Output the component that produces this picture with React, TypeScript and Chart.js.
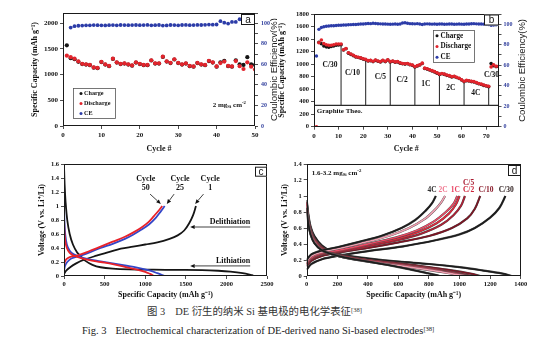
import React, { useEffect, useRef } from 'react';
import { Chart, registerables } from 'chart.js';

Chart.register(...registerables);

const SERIF = "'Liberation Serif', 'Times New Roman', serif";
const SANS = "'Liberation Sans', Arial, sans-serif";
const RED = '#e2242c';
const BLACK = '#151515';
const BLUE = '#2c3ca8';
const AXIS_BLUE = '#33419e';

// ================= Panel a : cycling at 2 mg cm-2 =================
const aCycles = [1,2,3,4,5,6,7,8,9,10,11,12,13,14,15,16,17,18,19,20,21,22,23,24,25,26,27,28,29,30,31,32,33,34,35,36,37,38,39,40,41,42,43,44,45,46,47,48,49,50];
const aCharge = [1570,1320,1300,1250,1205,1195,1185,1135,1125,1245,1195,1165,1305,1235,1205,1215,1195,1175,1235,1205,1185,1185,1275,1215,1215,1345,1255,1225,1295,1225,1195,1215,1165,1155,1225,1195,1185,1265,1235,1155,1240,1270,1165,1155,1280,1200,1190,1340,1200,1190];
const aDischarge = [1370,1340,1310,1260,1210,1200,1190,1140,1130,1250,1200,1170,1310,1240,1210,1220,1200,1180,1240,1210,1190,1190,1280,1220,1220,1350,1260,1230,1300,1230,1200,1220,1170,1160,1230,1200,1190,1270,1240,1160,1225,1255,1170,1160,1265,1165,1110,1240,1155,1100];
const aCE = [null,95.8,97.2,97.6,97.8,98.0,98.0,98.2,98.1,98.0,97.9,98.1,98.2,98.0,98.3,98.2,98.1,98.2,98.3,98.1,98.2,98.4,98.0,98.1,98.3,97.8,97.9,98.3,98.2,98.0,98.3,98.4,98.1,98.2,98.4,98.3,98.5,98.7,98.6,98.8,102.0,100.6,99.7,101.3,101.3,103.9,102.6,101.0,103.0,108.0];
const aCapTicks = [0, 500, 1000, 1500, 2000];

// ================= Panel b : rate test =================
const bCycles = [1,2,3,4,5,6,7,8,9,10,11,12,13,14,15,16,17,18,19,20,21,22,23,24,25,26,27,28,29,30,31,32,33,34,35,36,37,38,39,40,41,42,43,44,45,46,47,48,49,50,51,52,53,54,55,56,57,58,59,60,61,62,63,64,65,66,67,68,69,70,71,72,73,74,75];
const bDischarge = [0,
  1340,1385,1330,1310,1300,1300,1310,1320,1320,1320,
  1230,1250,1180,1160,1140,1120,1110,1100,1085,1075,
  1055,1060,1045,1065,1050,1040,1060,1045,1070,1040,
  1050,1035,1040,1020,1010,1005,1010,995,985,960,
  975,990,1015,935,925,910,895,880,860,840,
  850,840,825,815,800,805,790,775,750,725,
  740,735,725,720,705,690,680,665,655,645,
  955,990,965,965];
const bCharge = [null,
  1350,1325,1290,1275,1270,1280,1290,1300,1305,1310,
  1225,1245,1175,1155,1135,1115,1105,1095,1080,1070,
  1050,1055,1040,1060,1045,1035,1055,1040,1065,1035,
  1045,1030,1035,1015,1005,1000,1005,990,980,955,
  970,985,1010,930,920,905,890,875,855,835,
  845,835,820,810,795,800,785,770,745,720,
  735,730,720,715,700,685,675,660,650,640,
  1010,975,960,960];
const bCE = [69,95,96.8,97.5,98,98.3,98.5,98.6,98.8,99,99,99.2,99.3,99.5,99.6,99.8,99.8,100,100.2,100.3,100.5,100.8,100.6,101,100.7,100.5,100.4,100.3,100.2,100.1,100,100.1,100.2,100,100.3,101.2,101.4,100.9,100.6,100.5,100.4,100.6,100.3,99.8,100.2,100.4,100.3,100.1,100.2,100,100.3,100.2,100,100.1,100.3,100.2,100,100.1,100.2,100.1,100,100.3,100.2,100.5,100.6,100.4,100.2,100.3,100.1,100,99.8,99,99.2,99.5,99.6];
const bRateEnds = [11, 21, 31, 41, 51, 61, 71];
const bGraphite = 340;
const bRateLabels = ['C/30', 'C/10', 'C/5', 'C/2', '1C', '2C', '4C', 'C/30'];
const bRateLabelCycle = [6.5, 15.6, 27, 35.8, 45.5, 55.6, 65.8, 72.2];
const bRateLabelCap = [985, 863, 789, 746, 682, 613, 543, 820];
const bCycleTicks = [0, 10, 20, 30, 40, 50, 60, 70];

// ================= Panel c : voltage profiles, cycles 1/25/50 =================
const cLith1 = [[0,1.58],[8,1.3],[20,1.05],[40,0.8],[70,0.6],[110,0.45],[160,0.34],[200,0.29],[260,0.22],[350,0.16],[450,0.125],[600,0.105],[800,0.095],[1100,0.09],[1400,0.088],[1700,0.085],[1900,0.075],[2050,0.062],[2200,0.04],[2330,0.01]];
const cDelith1 = [[0,0.03],[30,0.08],[80,0.13],[150,0.18],[240,0.23],[400,0.29],[550,0.34],[700,0.39],[850,0.42],[1000,0.45],[1150,0.48],[1300,0.53],[1400,0.58],[1480,0.65],[1540,0.75],[1590,0.87],[1625,1.0]];
const cLith25 = [[0,1.0],[5,0.8],[15,0.6],[35,0.45],[70,0.36],[120,0.31],[200,0.27],[300,0.24],[450,0.21],[600,0.18],[750,0.15],[900,0.12],[1050,0.08],[1150,0.04],[1240,0]];
const cDelith25 = [[0,0.08],[15,0.15],[40,0.2],[90,0.25],[200,0.29],[300,0.33],[450,0.4],[600,0.46],[750,0.53],[850,0.59],[950,0.66],[1050,0.74],[1130,0.83],[1190,0.92],[1240,1.0]];
const cLith50 = [[0,0.85],[5,0.65],[15,0.5],[35,0.4],[70,0.33],[120,0.29],[200,0.26],[300,0.23],[450,0.2],[600,0.17],[750,0.13],[900,0.09],[1000,0.06],[1060,0.03],[1110,0]];
const cDelith50 = [[0,0.15],[10,0.2],[30,0.24],[70,0.27],[180,0.3],[300,0.35],[450,0.42],[600,0.49],[750,0.56],[850,0.62],[950,0.69],[1040,0.77],[1110,0.86],[1170,0.94],[1210,1.0]];
const cCycleTags = ['50', '25', '1'];
const cCycleTagCap = [1007, 1430, 1800];
const cArrowTail = [[1060, 1.17], [1356, 1.17], [1718, 1.17]];
const cArrowTip = [[1192, 1.03], [1266, 1.03], [1615, 1.03]];

// ================= Panel d : voltage profiles at different rates =================
const dDelithC30 = [[0,0.08],[30,0.15],[100,0.21],[200,0.25],[400,0.31],[630,0.37],[850,0.45],[1000,0.52],[1100,0.6],[1200,0.73],[1260,0.85],[1300,1.0]];
const dDelithC10 = [[0,0.12],[30,0.19],[100,0.25],[200,0.29],[400,0.35],[600,0.42],[800,0.5],[950,0.6],[1050,0.72],[1100,0.84],[1135,1.0]];
const dDelithC5 = [[0,0.14],[30,0.21],[100,0.27],[200,0.3],[400,0.37],[600,0.45],[750,0.53],[880,0.64],[960,0.76],[1010,0.88],[1035,1.0]];
const dDelithC2 = [[0,0.15],[30,0.22],[100,0.28],[200,0.31],[400,0.39],[600,0.47],[730,0.55],[850,0.66],[930,0.78],[975,0.89],[1000,1.0]];
const dDelith1C = [[0,0.16],[30,0.23],[100,0.29],[200,0.32],[400,0.4],[580,0.48],[720,0.57],[830,0.68],[910,0.8],[960,0.9],[985,1.0]];
const dDelith2C = [[0,0.18],[30,0.25],[100,0.3],[200,0.34],[400,0.43],[550,0.51],[670,0.6],[770,0.71],[840,0.83],[880,0.92],[905,1.0]];
const dDelith4C = [[0,0.2],[30,0.27],[100,0.32],[200,0.36],[350,0.43],[500,0.51],[620,0.6],[710,0.7],[780,0.82],[820,0.91],[845,1.0]];
const dLithC30 = [[0,0.95],[10,0.78],[25,0.62],[50,0.5],[100,0.38],[170,0.3],[250,0.26],[400,0.22],[600,0.18],[800,0.15],[1000,0.11],[1150,0.07],[1280,0.03],[1340,0]];
const dLithC10 = [[0,0.93],[10,0.75],[25,0.6],[50,0.47],[100,0.36],[170,0.29],[250,0.25],[400,0.2],[600,0.16],[800,0.11],[950,0.07],[1070,0.03],[1135,0]];
const dLithC5 = [[0,0.92],[10,0.74],[25,0.58],[50,0.46],[100,0.35],[170,0.28],[250,0.24],[400,0.2],[600,0.15],[800,0.1],[920,0.06],[1020,0.025],[1080,0]];
const dLithC2 = [[0,0.9],[10,0.72],[25,0.57],[50,0.45],[100,0.34],[170,0.28],[250,0.24],[400,0.19],[600,0.14],[800,0.09],[920,0.05],[1010,0.02],[1060,0]];
const dLith1C = [[0,0.9],[10,0.7],[25,0.55],[50,0.44],[100,0.33],[170,0.27],[250,0.23],[400,0.19],[600,0.14],[780,0.09],[900,0.05],[1000,0.02],[1050,0]];
const dLith2C = [[0,0.88],[10,0.68],[25,0.53],[50,0.42],[100,0.32],[170,0.27],[250,0.23],[400,0.18],[600,0.13],[780,0.08],[900,0.045],[990,0.015],[1040,0]];
const dLith4C = [[0,0.85],[10,0.66],[25,0.52],[50,0.41],[100,0.32],[170,0.27],[250,0.23],[400,0.18],[550,0.13],[680,0.08],[780,0.04],[840,0.015],[870,0]];
const dRateNames = ['C/30', 'C/10', 'C/5', 'C/2', '1C', '2C', '4C'];
const dRateColors = ['#1c1c1c', '#7d1423', '#b31e34', '#e2283c', '#ee4a66', '#f3a0b2', '#1c1c1c'];
const dRateLabelColors = ['#2a1a1a', '#8a1a2a', '#a8182e', '#cc2238', '#e84060', '#f07890', '#333333'];
const dDelith = [dDelithC30, dDelithC10, dDelithC5, dDelithC2, dDelith1C, dDelith2C, dDelith4C];
const dLith = [dLithC30, dLithC10, dLithC5, dLithC2, dLith1C, dLith2C, dLith4C];
const dRateLabelCap = [1305, 1173, 1059, 1059, 973, 893, 820];
const dRateLabelV = [1.075, 1.075, 1.16, 1.075, 1.075, 1.075, 1.075];

// ================= helpers =================
const tickFont = (size: number) => ({ family: SERIF, size, weight: 'bold' as const });
const titleFont = { family: SERIF, size: 8, weight: 'bold' as const, lineHeight: 1.2 };
const gridOpts = { drawOnChartArea: false, drawTicks: true, tickLength: 3, color: '#222', lineWidth: 0.8 };
const fmt = (v: any) => String(Math.round(Number(v) * 10) / 10);
const every = (n: number) => (v: any) => (Math.abs(Number(v) / n - Math.round(Number(v) / n)) < 1e-6 ? fmt(v) : '');
const fixedTicks = (vals: number[]) => (scale: any) => { scale.ticks = vals.map((v) => ({ value: v })); };
const pairs = (arr: number[][]) => arr.map((p) => ({ x: p[0], y: p[1] }));

type Seg = { t: string; m?: 'sub' | 'sup' };

function drawRich(ctx: CanvasRenderingContext2D, segs: Seg[], x: number, y: number, size: number, color: string, align: string, bold = true, family = SERIF) {
  const f = (sz: number) => `${bold ? 'bold ' : ''}${sz}px ${family}`;
  let total = 0;
  for (const s of segs) { ctx.font = f(s.m ? size * 0.68 : size); total += ctx.measureText(s.t).width; }
  let cx = align === 'center' ? x - total / 2 : align === 'right' ? x - total : x;
  ctx.fillStyle = color; ctx.textBaseline = 'middle'; ctx.textAlign = 'left';
  for (const s of segs) {
    const sz = s.m ? size * 0.68 : size;
    ctx.font = f(sz);
    const dy = s.m === 'sub' ? size * 0.3 : s.m === 'sup' ? -size * 0.32 : 0;
    ctx.fillText(s.t, cx, y + dy);
    cx += ctx.measureText(s.t).width;
  }
}

function drawArrow(ctx: CanvasRenderingContext2D, x1: number, y1: number, x2: number, y2: number) {
  const ang = Math.atan2(y2 - y1, x2 - x1);
  const hl = 4.5, hw = 2;
  ctx.strokeStyle = '#111'; ctx.fillStyle = '#111'; ctx.lineWidth = 0.8;
  ctx.beginPath(); ctx.moveTo(x1, y1); ctx.lineTo(x2 - Math.cos(ang) * hl, y2 - Math.sin(ang) * hl); ctx.stroke();
  ctx.beginPath();
  ctx.moveTo(x2, y2);
  ctx.lineTo(x2 - Math.cos(ang) * hl - Math.sin(ang) * hw, y2 - Math.sin(ang) * hl + Math.cos(ang) * hw);
  ctx.lineTo(x2 - Math.cos(ang) * hl + Math.sin(ang) * hw, y2 - Math.sin(ang) * hl - Math.cos(ang) * hw);
  ctx.closePath(); ctx.fill();
}

function makeExtras(cfg: any) {
  return {
    id: 'extras',
    afterDraw(chart: any) {
      const { ctx, chartArea: ca, scales } = chart;
      const px = (v: number) => scales.x.getPixelForValue(v);
      const py = (v: number) => scales.y.getPixelForValue(v);
      ctx.save();
      ctx.lineWidth = 1; ctx.strokeStyle = '#1a1a1a';
      const l = Math.round(ca.left) + 0.5, t = Math.round(ca.top) + 0.5;
      const r = Math.round(ca.right) - 0.5, b = Math.round(ca.bottom) - 0.5;
      ctx.strokeRect(l, t, r - l, b - t);
      const bx = Math.round(ca.right) - cfg.tagW, by = Math.round(ca.top) + cfg.tagDy;
      ctx.fillStyle = '#fff'; ctx.fillRect(bx, by, cfg.tagW, cfg.tagH);
      ctx.strokeRect(bx + 0.5, by + 0.5, cfg.tagW - 1, cfg.tagH - 1);
      ctx.fillStyle = '#111'; ctx.font = `10px ${SANS}`; ctx.textAlign = 'center'; ctx.textBaseline = 'middle';
      ctx.fillText(cfg.tag, bx + cfg.tagW / 2, by + cfg.tagH / 2 + 0.5);
      if (cfg.rightTitle) {
        ctx.save();
        ctx.translate(ca.right + cfg.rightTitle.dx, (ca.top + ca.bottom) / 2);
        ctx.rotate(-Math.PI / 2);
        ctx.font = `${cfg.rightTitle.size}px ${SANS}`; ctx.fillStyle = '#1a1a1a';
        ctx.textAlign = 'center'; ctx.textBaseline = 'middle';
        ctx.fillText(cfg.rightTitle.text, 0, 0);
        ctx.restore();
      }
      if (cfg.legend) {
        const L = cfg.legend;
        const lx = Math.round(px(L.x)), ly = Math.round(py(L.y));
        ctx.fillStyle = '#fff'; ctx.fillRect(lx, ly, L.w, L.h);
        ctx.strokeStyle = '#555'; ctx.lineWidth = 0.8; ctx.strokeRect(lx + 0.5, ly + 0.5, L.w, L.h);
        L.items.forEach((it: any, i: number) => {
          const ry = ly + L.h * (i + 0.5) / L.items.length + 0.5;
          ctx.fillStyle = it.color; ctx.beginPath(); ctx.arc(lx + L.dotX, ry, 1.5, 0, Math.PI * 2); ctx.fill();
          ctx.fillStyle = '#111'; ctx.font = `bold ${L.size}px ${SERIF}`; ctx.textAlign = 'left'; ctx.textBaseline = 'middle';
          ctx.fillText(it.label, lx + L.textX, ry);
        });
      }
      (cfg.arrows || []).forEach((a: any) => drawArrow(ctx, px(a[0]), py(a[1]), px(a[2]), py(a[3])));
      (cfg.texts || []).forEach((tx: any) => drawRich(ctx, tx.segs, px(tx.x), py(tx.y), tx.size, tx.color || '#111', tx.align || 'center'));
      ctx.restore();
    },
  };
}

const baseOpts = (padding: any) => ({
  responsive: false,
  animation: false,
  events: [],
  layout: { padding },
  plugins: { legend: { display: false }, tooltip: { enabled: false } },
});

function configA() {
  return {
    type: 'scatter',
    data: {
      datasets: [
        { label: 'Charge', data: aCycles.map((c, i) => ({ x: c, y: aCharge[i] })), backgroundColor: BLACK, borderColor: BLACK, pointRadius: 2.1, borderWidth: 0, order: 2, yAxisID: 'y' },
        { label: 'Discharge', data: aCycles.map((c, i) => ({ x: c, y: aDischarge[i] })), backgroundColor: RED, borderColor: RED, pointRadius: 2.1, borderWidth: 0, order: 1, yAxisID: 'y' },
        { label: 'CE', data: aCycles.map((c, i) => ({ x: c, y: aCE[i] })), backgroundColor: BLUE, borderColor: BLUE, pointRadius: 1.9, borderWidth: 0, order: 0, yAxisID: 'y1' },
      ],
    },
    options: {
      ...baseOpts({ top: 13, left: 30, right: 0, bottom: 0 }),
      scales: {
        x: {
          type: 'linear', min: 0, max: 50,
          ticks: { stepSize: 10, font: tickFont(7), color: '#111', padding: 2, maxRotation: 0, callback: fmt },
          grid: gridOpts, border: { display: false },
          title: { display: true, text: 'Cycle #', font: titleFont, color: '#111', padding: { top: 0, bottom: 2.2 } },
          afterFit: (s: any) => { s.height = 30; },
        },
        y: {
          type: 'linear', position: 'left', min: 0, max: 2200,
          afterBuildTicks: fixedTicks(aCapTicks),
          ticks: { display: true, autoSkip: false, font: tickFont(7), color: '#111', padding: 2, callback: fmt },
          grid: gridOpts, border: { display: false },
          title: { display: true, text: 'Specific Capacity (mAh g⁻¹)', font: titleFont, color: '#111', padding: { top: 0.2, bottom: 0 } },
          afterFit: (s: any) => { s.width = 33; },
        },
        y1: {
          type: 'linear', position: 'right', min: 0, max: 110,
          ticks: { stepSize: 10, autoSkip: false, font: tickFont(6), color: AXIS_BLUE, padding: 3, callback: every(20) },
          grid: gridOpts, border: { display: false },
          afterFit: (s: any) => { s.width = 22; },
        },
      },
    },
    plugins: [makeExtras({
      tag: 'a', tagW: 14, tagH: 11, tagDy: 1,
      rightTitle: { text: 'Coulombic Efficiency(%)', dx: 19, size: 9.5 },
      legend: { x: 2.6, y: 740, w: 42, h: 30, size: 6.2, dotX: 8, textX: 11,
        items: [{ label: 'Charge', color: BLACK }, { label: 'Discharge', color: RED }, { label: 'CE', color: BLUE }] },
      texts: [{ segs: [{ t: '2 mg' }, { t: 'Si', m: 'sub' }, { t: ' cm' }, { t: '-2', m: 'sup' }], x: 39, y: 410, size: 7, align: 'left' }],
    })],
  };
}

function configB() {
  const rateLines: any[] = [];
  bRateEnds.forEach((c) => {
    rateLines.push({ x: c, y: bGraphite }, { x: c, y: bDischarge[c - 1] }, { x: c, y: null });
  });
  return {
    type: 'scatter',
    data: {
      datasets: [
        { label: 'Charge', data: bCycles.map((c, i) => ({ x: c, y: bCharge[i] })), backgroundColor: BLACK, borderColor: BLACK, pointRadius: 1.8, borderWidth: 0, order: 3, yAxisID: 'y' },
        { label: 'Discharge', data: bCycles.map((c, i) => ({ x: c, y: bDischarge[i] })), backgroundColor: RED, borderColor: RED, pointRadius: 1.8, borderWidth: 0, order: 2, yAxisID: 'y' },
        { label: 'CE', data: bCycles.map((c, i) => ({ x: c, y: bCE[i] })), backgroundColor: BLUE, borderColor: BLUE, pointRadius: 1.7, borderWidth: 0, order: 1, yAxisID: 'y1' },
        { label: 'Graphite', data: [{ x: 0, y: bGraphite }, { x: 75, y: bGraphite }], showLine: true, pointRadius: 0, borderColor: '#2a2a2a', borderWidth: 1.2, order: 5, yAxisID: 'y' },
        { label: 'Rates', data: rateLines, showLine: true, spanGaps: false, pointRadius: 0, borderColor: '#333', borderWidth: 1.1, order: 6, yAxisID: 'y' },
      ],
    },
    options: {
      ...baseOpts({ top: 14, left: 0, right: 0, bottom: 0 }),
      scales: {
        x: {
          type: 'linear', min: 0, max: 75,
          afterBuildTicks: fixedTicks(bCycleTicks),
          ticks: { autoSkip: false, font: tickFont(7), color: '#111', padding: 2, maxRotation: 0, callback: fmt },
          grid: gridOpts, border: { display: false },
          title: { display: true, text: 'Cycle #', font: titleFont, color: '#111', padding: { top: 0, bottom: 2.2 } },
          afterFit: (s: any) => { s.height = 29.3; },
        },
        y: {
          type: 'linear', position: 'left', min: 0, max: 1800,
          ticks: { stepSize: 200, autoSkip: false, font: tickFont(6.5), color: '#111', padding: 2, callback: fmt },
          grid: gridOpts, border: { display: false },
          title: { display: true, text: 'Specific Capacity (mAh g⁻¹)', font: titleFont, color: '#111', padding: { top: 0.2, bottom: 0 } },
          afterFit: (s: any) => { s.width = 37; },
        },
        y1: {
          type: 'linear', position: 'right', min: 0, max: 110,
          ticks: { stepSize: 10, autoSkip: false, font: tickFont(6), color: AXIS_BLUE, padding: 2, callback: every(20) },
          grid: gridOpts, border: { display: false },
          afterFit: (s: any) => { s.width = 55.5; },
        },
      },
    },
    plugins: [makeExtras({
      tag: 'b', tagW: 15, tagH: 11, tagDy: 0.5,
      rightTitle: { text: 'Coulombic Efficiency(%)', dx: 23.5, size: 9.5 },
      legend: { x: 48.3, y: 1545, w: 41, h: 32, size: 7.2, dotX: 4, textX: 7.5,
        items: [{ label: 'Charge', color: BLACK }, { label: 'Discharge', color: RED }, { label: 'CE', color: BLUE }] },
      texts: [
        ...bRateLabels.map((t, i) => ({ segs: [{ t }], x: bRateLabelCycle[i], y: bRateLabelCap[i], size: 7.5 })),
        { segs: [{ t: 'Graphite Theo.' }], x: 1.1, y: 240, size: 7, align: 'left' },
      ],
    })],
  };
}

function configC() {
  const line = (data: number[][], color: string, order: number) => ({ data: pairs(data), showLine: true, pointRadius: 0, borderColor: color, borderWidth: 1.8, tension: 0.35, order });
  return {
    type: 'scatter',
    data: {
      datasets: [
        line(cLith1, BLACK, 6), line(cDelith1, BLACK, 5),
        line(cLith25, '#3446c8', 4), line(cDelith25, '#3446c8', 3),
        line(cLith50, '#e8222a', 2), line(cDelith50, '#e8222a', 1),
      ],
    },
    options: {
      ...baseOpts({ top: 8, left: 0, right: 10, bottom: 0 }),
      scales: {
        x: {
          type: 'linear', min: 0, max: 2500,
          ticks: { stepSize: 500, font: tickFont(6.5), color: '#111', padding: 1, maxRotation: 0, callback: fmt },
          grid: gridOpts, border: { display: false },
          title: { display: true, text: 'Specific Capacity (mAh g⁻¹)', font: titleFont, color: '#111', padding: { top: 0, bottom: 2.2 } },
          afterFit: (s: any) => { s.height = 26; },
        },
        y: {
          type: 'linear', position: 'left', min: 0, max: 1.6,
          ticks: { stepSize: 0.2, autoSkip: false, font: tickFont(6.5), color: '#111', padding: 2, callback: fmt },
          grid: gridOpts, border: { display: false },
          title: { display: true, text: 'Voltage (V vs. Li⁺/Li)', font: titleFont, color: '#111', padding: { top: 36.9, bottom: 0 } },
          afterFit: (s: any) => { s.width = 64; },
        },
      },
    },
    plugins: [makeExtras({
      tag: 'c', tagW: 12, tagH: 10, tagDy: 2.7,
      arrows: [
        ...cArrowTail.map((t, i) => [t[0], t[1], cArrowTip[i][0], cArrowTip[i][1]]),
        [2293, 0.70, 1554, 0.70],
        [2293, 0.144, 1554, 0.144],
      ],
      texts: [
        ...cCycleTags.map((n, i) => ({ segs: [{ t: 'Cycle' }], x: cCycleTagCap[i], y: 1.393, size: 8 })),
        ...cCycleTags.map((n, i) => ({ segs: [{ t: n }], x: cCycleTagCap[i], y: 1.264, size: 8 })),
        { segs: [{ t: 'Delithiation' }], x: 2293, y: 0.768, size: 8, align: 'right' },
        { segs: [{ t: 'Lithiation' }], x: 2293, y: 0.216, size: 8, align: 'right' },
      ],
    })],
  };
}

function configD() {
  const datasets: any[] = [];
  let k = 0;
  dRateNames.forEach((name, i) => {
    [dDelith[i], dLith[i]].forEach((curve) => {
      datasets.push({ label: name + ' outline', data: pairs(curve), showLine: true, pointRadius: 0, borderColor: '#4a4a4a', borderWidth: 2.2, tension: 0.35, order: 1000 - 2 * k });
      datasets.push({ label: name, data: pairs(curve), showLine: true, pointRadius: 0, borderColor: dRateColors[i], borderWidth: 1.5, tension: 0.35, order: 999 - 2 * k });
      k++;
    });
  });
  return {
    type: 'scatter',
    data: { datasets },
    options: {
      ...baseOpts({ top: 8, left: 0, right: 33.3, bottom: 0 }),
      scales: {
        x: {
          type: 'linear', min: 0, max: 1400,
          ticks: { stepSize: 200, font: tickFont(6.5), color: '#111', padding: 1, maxRotation: 0, callback: fmt },
          grid: gridOpts, border: { display: false },
          title: { display: true, text: 'Specific Capacity (mAh g⁻¹)', font: titleFont, color: '#111', padding: { top: 0, bottom: 2.2 } },
          afterFit: (s: any) => { s.height = 26; },
        },
        y: {
          type: 'linear', position: 'left', min: 0, max: 1.4,
          ticks: { stepSize: 0.2, autoSkip: false, font: tickFont(6.5), color: '#111', padding: 2, callback: fmt },
          grid: gridOpts, border: { display: false },
          title: { display: true, text: 'Voltage (V vs. Li⁺/Li)', font: titleFont, color: '#111', padding: { top: 3.2, bottom: 0 } },
          afterFit: (s: any) => { s.width = 29.7; },
        },
      },
    },
    plugins: [makeExtras({
      tag: 'd', tagW: 13, tagH: 11, tagDy: 1,
      texts: [
        { segs: [{ t: '1.6-3.2 mg' }, { t: 'Si', m: 'sub' }, { t: ' cm' }, { t: '-2', m: 'sup' }], x: 33, y: 1.29, size: 7, align: 'left' },
        ...dRateNames.map((t, i) => ({ segs: [{ t }], x: dRateLabelCap[i], y: dRateLabelV[i], size: 7.5, color: dRateLabelColors[i] })),
      ],
    })],
  };
}

function Panel({ make, left, top, width, height }: any) {
  const ref = useRef<HTMLCanvasElement>(null);
  useEffect(() => {
    const chart = new Chart(ref.current as HTMLCanvasElement, make() as any);
    return () => chart.destroy();
  }, [make]);
  return <canvas ref={ref} width={width} height={height} style={{ position: 'absolute', left, top, width, height }} />;
}

export default function App() {
  return (
    <div style={{ position: 'absolute', left: 0, top: 0, width: 554, height: 351, background: '#fff', overflow: 'hidden' }}>
      <Panel make={configA} left={0} top={0} width={277} height={156} />
      <Panel make={configB} left={277} top={0} width={277} height={156} />
      <Panel make={configC} left={0} top={156} width={277} height={146} />
      <Panel make={configD} left={277} top={156} width={277} height={146} />
      <div style={{ position: 'absolute', left: 147, top: 305, whiteSpace: 'nowrap', fontFamily: "'Liberation Serif', 'Noto Sans CJK SC', serif", fontSize: 10.4, color: '#333', lineHeight: '14px' }}>
        图 3<span style={{ display: 'inline-block', width: 10 }} />DE 衍生的纳米 Si 基电极的电化学表征<sup style={{ fontSize: 6.5, verticalAlign: 'top', position: 'relative', top: -2 }}>[38]</sup>
      </div>
      <div style={{ position: 'absolute', left: 82, top: 324, whiteSpace: 'nowrap', fontFamily: "'Liberation Serif', serif", fontSize: 10.5, color: '#222', lineHeight: '14px' }}>
        Fig. 3<span style={{ display: 'inline-block', width: 9 }} />Electrochemical characterization of DE-derived nano Si-based electrodes<sup style={{ fontSize: 6.5, verticalAlign: 'top', position: 'relative', top: -2 }}>[38]</sup>
      </div>
    </div>
  );
}
